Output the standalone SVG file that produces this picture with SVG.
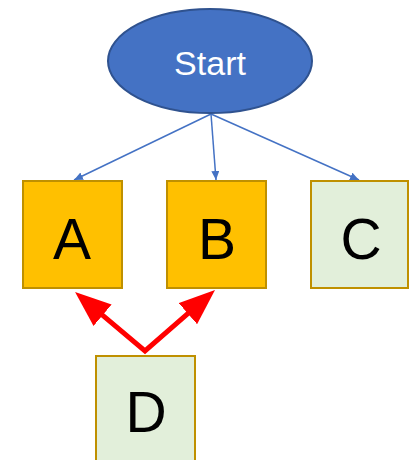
<svg xmlns="http://www.w3.org/2000/svg" width="410" height="460" viewBox="0 0 410 460">
  <style>
    .box { stroke: #BF9000; stroke-width: 2; }
    .gold { fill: #FFC000; }
    .pale { fill: #E2EFDA; }
    .lbl { font-family: "Liberation Sans", Arial, sans-serif; font-size: 57px; fill: #000; text-anchor: middle; }
    .blue { stroke: #4472C4; stroke-width: 1.5; fill: none; }
    .red { stroke: #FF0000; stroke-width: 5; fill: none; stroke-linejoin: miter; }
  </style>
  <defs>
    <marker id="arrBlue" viewBox="0 0 10 10" refX="10" refY="5" markerWidth="9" markerHeight="8" markerUnits="userSpaceOnUse" orient="auto" preserveAspectRatio="none">
      <path d="M0,0 L10,5 L0,10 z" fill="#4472C4"/>
    </marker>
    <!-- tip sits 30px beyond the end of the shaft -->
    <marker id="arrRed" viewBox="0 0 36 28" refX="6" refY="14" markerWidth="36" markerHeight="28" markerUnits="userSpaceOnUse" orient="auto-start-reverse">
      <path d="M0,0 L36,14 L0,28 z" fill="#FF0000"/>
    </marker>
  </defs>

  <g id="connectors">
    <line class="blue" x1="211" y1="114" x2="74" y2="180" marker-end="url(#arrBlue)"/>
    <line class="blue" x1="211" y1="114" x2="216" y2="180" marker-end="url(#arrBlue)"/>
    <line class="blue" x1="211" y1="114" x2="359" y2="180" marker-end="url(#arrBlue)"/>
    <polyline class="red" points="98,311.4 145,351 192.4,309.7" marker-start="url(#arrRed)" marker-end="url(#arrRed)"/>
  </g>

  <g id="start">
    <ellipse cx="210" cy="61" rx="102" ry="52" fill="#4472C4" stroke="#2F528F" stroke-width="2"/>
    <text x="210" y="75" font-family="Liberation Sans, Arial, sans-serif" font-size="34" fill="#FFFFFF" text-anchor="middle">Start</text>
  </g>

  <g id="nodeA">
    <rect class="box gold" x="23" y="181" width="99" height="107"/>
    <text class="lbl" x="72" y="259">A</text>
  </g>

  <g id="nodeB">
    <rect class="box gold" x="167" y="181" width="99" height="107"/>
    <text class="lbl" x="217" y="259">B</text>
  </g>

  <g id="nodeC">
    <rect class="box pale" x="311" y="181" width="97" height="107"/>
    <text class="lbl" x="361" y="259">C</text>
  </g>

  <g id="nodeD">
    <rect class="box pale" x="96" y="356" width="99" height="110"/>
    <text class="lbl" x="146" y="432">D</text>
  </g>
</svg>
